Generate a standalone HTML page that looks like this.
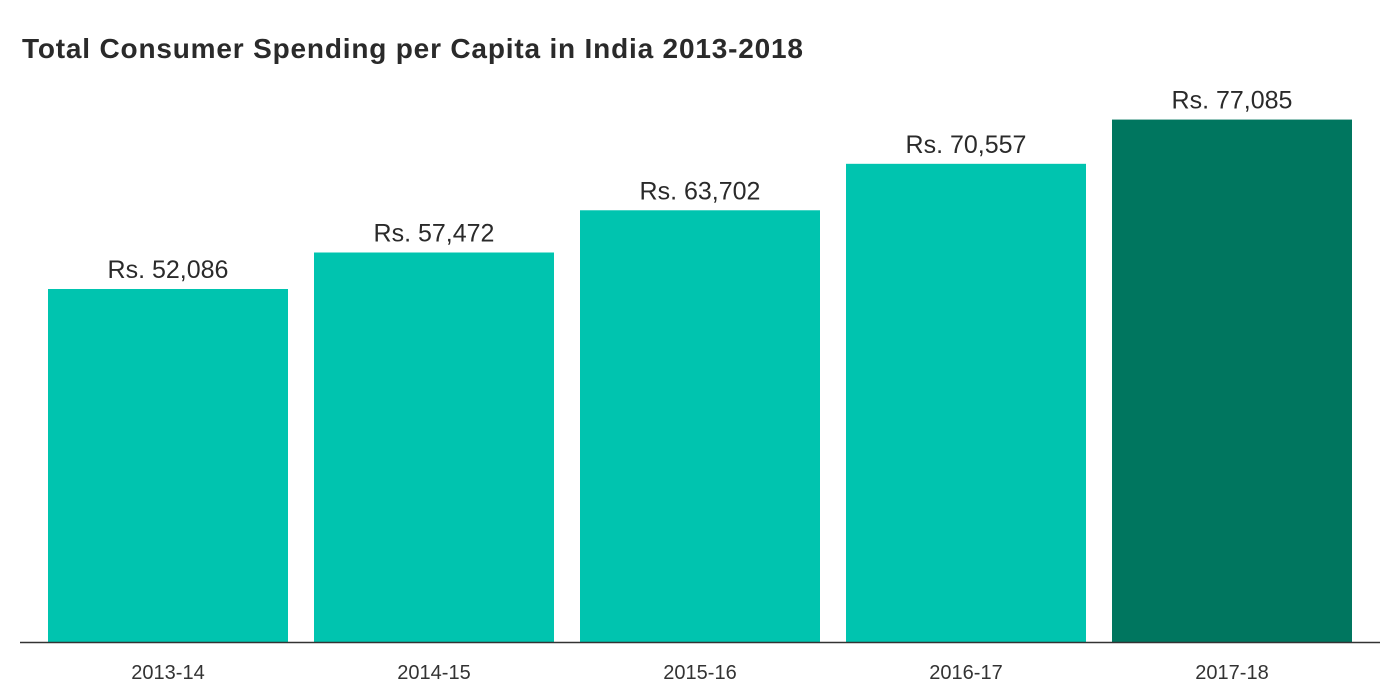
<!DOCTYPE html>
<html><head><meta charset="utf-8"><style>
body{margin:0;background:#fff;width:1400px;height:691px;overflow:hidden;font-family:"Liberation Sans",sans-serif;}
</style></head><body>
<svg width="1400" height="691">
<text x="22" y="58" font-size="28" font-weight="bold" fill="#2a2a2a" textLength="781" lengthAdjust="spacing">Total Consumer Spending per Capita in India 2013-2018</text>
<g id="bars"></g>
<line x1="20" x2="1380" y1="642.5" y2="642.5" stroke="#333" stroke-width="1.5"/>
</svg>
<script>
const categories=["2013-14","2014-15","2015-16","2016-17","2017-18"];
const values=[52086,57472,63702,70557,77085];
const labels=["Rs. 52,086","Rs. 57,472","Rs. 63,702","Rs. 70,557","Rs. 77,085"];
const NS="http://www.w3.org/2000/svg";
const g=document.getElementById("bars");
const y=v=>642-v*(353/52086);
const x=i=>48+i*266;
categories.forEach((c,i)=>{
 const r=document.createElementNS(NS,"rect");
 r.setAttribute("x",x(i));r.setAttribute("width",240);
 r.setAttribute("y",y(values[i]));r.setAttribute("height",642-y(values[i]));
 r.setAttribute("fill",i===categories.length-1?"#00765f":"#00c4af");
 
 
 g.appendChild(r);
 const t=document.createElementNS(NS,"text");
 t.setAttribute("x",x(i)+120);t.setAttribute("y",y(values[i])-11);
 t.setAttribute("text-anchor","middle");t.setAttribute("font-size","25");t.setAttribute("fill","#2a2a2a");
 t.textContent=labels[i];
 
 
 g.appendChild(t);
 const xt=document.createElementNS(NS,"text");
 xt.setAttribute("x",x(i)+120);xt.setAttribute("y",679);
 xt.setAttribute("text-anchor","middle");xt.setAttribute("font-size","20");xt.setAttribute("fill","#333");
 xt.textContent=c;
 
 
 g.appendChild(xt);
});
</script>
</body></html>
